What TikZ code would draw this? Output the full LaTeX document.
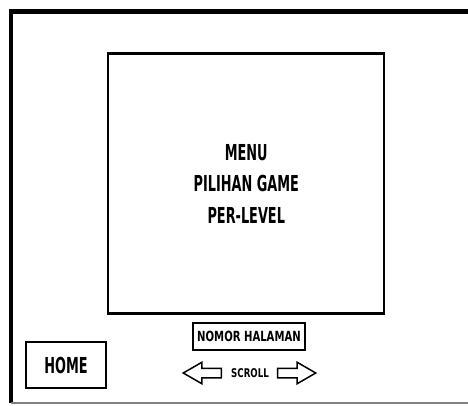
\documentclass[tikz,border=0pt]{standalone}
\usepackage{fontspec}
\newfontfamily\sketchfont[FakeStretch=0.65]{DejaVu Sans Condensed}
\newfontfamily\widefont[FakeStretch=0.8]{DejaVu Sans Condensed}
\usetikzlibrary{positioning,shapes.arrows}

\begin{document}
\begin{tikzpicture}[x=1pt, y=1pt,
    screenbox/.style={rectangle, draw, line width=2.4pt, minimum width=276pt,
                minimum height=260pt, align=center,
                font=\sketchfont\bfseries\fontsize{22}{31.5}\selectfont},
    pagebox/.style={rectangle, draw, line width=2pt, minimum width=112pt,
                minimum height=27pt, inner sep=0pt,
                font=\widefont\bfseries\fontsize{14}{15}\selectfont},
    homebox/.style={rectangle, draw, line width=2pt, minimum width=80pt,
                minimum height=46pt, inner sep=0pt,
                font=\sketchfont\bfseries\fontsize{22}{24}\selectfont},
    smalltext/.style={inner sep=0pt, font=\widefont\bfseries\fontsize{12}{13}\selectfont},
    scrollarrow/.style={single arrow, draw, line width=1.5pt, inner xsep=0pt,
                inner ysep=4pt, minimum height=38pt,
                single arrow head extend=6pt, single arrow tip angle=60}
  ]
    \useasboundingbox (0,0) rectangle (468,405);

    % Outer frame
    \draw[line width=4pt] (11,2) -- (11,393.5);
    \draw[line width=5pt] (9,393.5) -- (468,393.5);
    \draw[gray, line width=1.2pt] (11,2) -- (468,2);

    % Screen
    \node[screenbox] (screen) at (246.25,221.5) {MENU\\PILIHAN GAME\\PER-LEVEL};

    % Page number
    \node[pagebox] (pages) at (249,68.5) {NOMOR HALAMAN};

    % Scroll
    \node[smalltext] (scroll) at (250,32) {SCROLL};
    \node[scrollarrow, shape border rotate=180, left=9pt of scroll] (prev) {};
    \node[scrollarrow, right=8pt of scroll] (next) {};

    % Home
    \node[homebox] (home) at (66,40) {HOME};
  \end{tikzpicture}
\end{document}
